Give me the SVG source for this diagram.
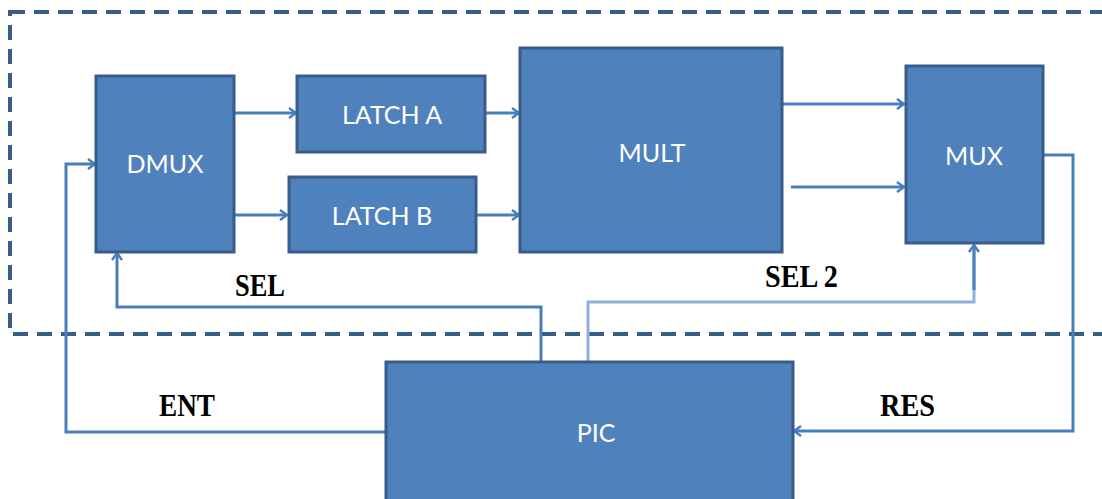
<svg xmlns="http://www.w3.org/2000/svg" width="1102" height="499" viewBox="0 0 1102 499">
<style>
.box{fill:#4f81bd;stroke:#385d8a;stroke-width:3}
.lbl{fill:#fff;font-family:Lato,"Open Sans",sans-serif;font-size:25px;text-anchor:middle;dominant-baseline:central}
.w{fill:none;stroke:#4a7ebb;stroke-width:3}
.wl{fill:none;stroke:#8fb0d9;stroke-width:3}
.sig{fill:#000;font-family:"Liberation Serif",serif;font-weight:bold;font-size:31px}
</style>
<defs>
<marker id="ar" markerWidth="12" markerHeight="12" refX="10" refY="6" orient="auto" markerUnits="userSpaceOnUse">
<path d="M3,1 L10,6 L3,11" fill="none" stroke="#4a7ebb" stroke-width="2.5"/>
</marker>
</defs>
<rect x="10" y="12" width="1120" height="322" fill="none" stroke="#385d8a" stroke-width="4" stroke-dasharray="15 9"/>
<g id="connectors">
<line class="w" x1="234" y1="113" x2="296" y2="113" marker-end="url(#ar)"/>
<line class="w" x1="234" y1="215" x2="287" y2="215" marker-end="url(#ar)"/>
<line class="w" x1="486" y1="113" x2="519" y2="113" marker-end="url(#ar)"/>
<line class="w" x1="477" y1="215" x2="519" y2="215" marker-end="url(#ar)"/>
<line class="w" x1="783" y1="104" x2="904" y2="104" marker-end="url(#ar)"/>
<line class="w" x1="791" y1="187" x2="904" y2="187" marker-end="url(#ar)"/>
<polyline class="w" points="385,432 66,432 66,164 95,164" marker-end="url(#ar)"/>
<polyline class="w" points="541,361 541,307 117,307 117,253" marker-end="url(#ar)"/>
<polyline class="wl" points="588,361 588,302 974,302 974,246"/>
<line class="w" x1="974" y1="290" x2="974" y2="245" marker-end="url(#ar)"/>
<polyline class="w" points="1044,155 1073,155 1073,431 794,431" marker-end="url(#ar)"/>
</g>
<g id="dmux"><rect class="box" x="96" y="76" width="138" height="176"/><text class="lbl" x="165" y="163">DMUX</text></g>
<g id="latcha"><rect class="box" x="297" y="76" width="188" height="76"/><text class="lbl" x="392" y="114">LATCH A</text></g>
<g id="latchb"><rect class="box" x="289" y="177" width="187" height="75"/><text class="lbl" x="382" y="215">LATCH B</text></g>
<g id="mult"><rect class="box" x="520" y="48" width="262" height="204"/><text class="lbl" x="652" y="152">MULT</text></g>
<g id="mux"><rect class="box" x="906" y="66" width="137" height="177"/><text class="lbl" x="974" y="155">MUX</text></g>
<g id="pic"><rect class="box" x="386" y="362" width="407" height="140"/><text class="lbl" x="596" y="432">PIC</text></g>
<g id="labels">
<text class="sig" x="235" y="296" textLength="50" lengthAdjust="spacingAndGlyphs">SEL</text>
<text class="sig" x="765" y="287" textLength="73" lengthAdjust="spacingAndGlyphs">SEL 2</text>
<text class="sig" x="159" y="416" textLength="56" lengthAdjust="spacingAndGlyphs">ENT</text>
<text class="sig" x="880" y="416" textLength="55" lengthAdjust="spacingAndGlyphs">RES</text>
</g>
</svg>
